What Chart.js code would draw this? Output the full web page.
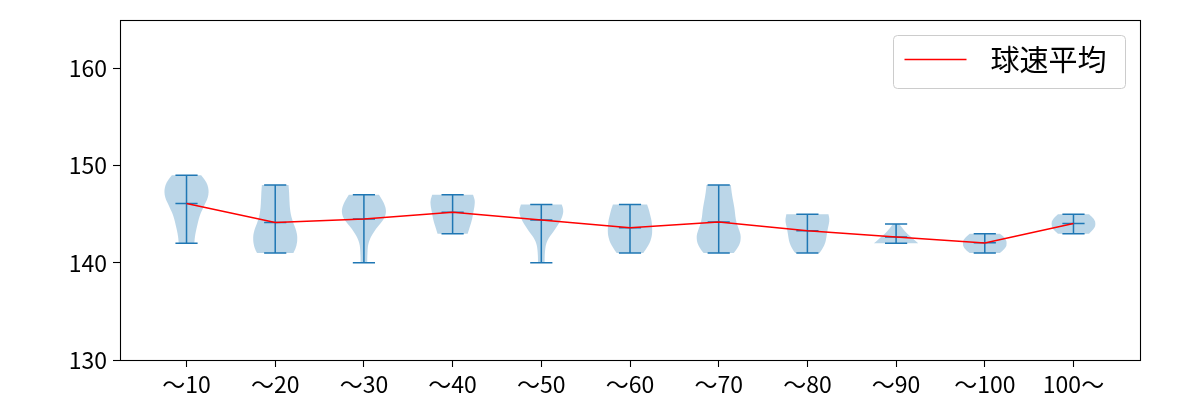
<!DOCTYPE html>
<html>
<head>
<meta charset="utf-8">
<script src="https://cdn.jsdelivr.net/npm/chart.js@4/dist/chart.umd.min.js"></script>
<style>
  html, body { margin: 0; padding: 0; background: #fff; }
  #wrap { width: 1200px; height: 400px; }
</style>
</head>
<body>
<div id="wrap"><canvas id="violinChart" width="1200" height="400"></canvas></div>
<script>
// categories (x tick labels) and their positions
const categories = ["〜10", "〜20", "〜30", "〜40", "〜50", "〜60", "〜70", "〜80", "〜90", "〜100", "100〜"];
const positions = [1, 2, 3, 4, 5, 6, 7, 8, 9, 10, 11];
const yTicks = [130, 140, 150, 160];

// per category: min, max, mean of pitch speed
const speedMin = [142, 141, 140, 143, 140, 141, 141, 141, 142, 141, 143];
const speedMax = [149, 148, 147, 147, 146, 146, 148, 145, 144, 143, 145];
const speedMean = [146.1, 144.15, 144.5, 145.2, 144.4, 143.6, 144.2, 143.3, 142.65, 142.05, 144.05];

// violin density (relative width), sampled every 0.5 from min to max
const densityStep = 0.5;
const density = [
  [0.35, 0.37, 0.40, 0.45, 0.50, 0.55, 0.62, 0.72, 0.82, 0.93, 0.99, 1.00, 0.95, 0.84, 0.66],
  [0.82, 0.93, 0.98, 1.00, 0.98, 0.92, 0.83, 0.76, 0.70, 0.67, 0.65, 0.64, 0.63, 0.62, 0.60],
  [0.15, 0.15, 0.16, 0.17, 0.20, 0.28, 0.40, 0.55, 0.73, 0.90, 0.99, 1.00, 0.93, 0.82, 0.68],
  [0.68, 0.75, 0.82, 0.88, 0.92, 0.96, 1.00, 1.00, 0.92],
  [0.15, 0.15, 0.16, 0.18, 0.22, 0.32, 0.48, 0.64, 0.78, 0.90, 0.98, 1.00, 0.92],
  [0.60, 0.75, 0.88, 0.96, 1.00, 1.00, 0.99, 0.96, 0.90, 0.85, 0.77],
  [0.68, 0.85, 0.96, 1.00, 0.98, 0.90, 0.82, 0.77, 0.74, 0.72, 0.68, 0.64, 0.60, 0.57, 0.55],
  [0.55, 0.70, 0.80, 0.85, 0.88, 0.92, 0.97, 1.00, 0.95],
  [1.00, 0.75, 0.50, 0.30, 0.14],
  [0.68, 0.95, 1.00, 0.95, 0.68],
  [0.70, 0.95, 1.00, 0.95, 0.70]
];

const violinWidth = 0.5;
const bodyColor = "rgba(31, 119, 180, 0.3)";
const lineColor = "#1f77b4";
const fontFamily = "'Noto Sans CJK JP', 'Noto Sans', sans-serif";

// draws violin bodies, stems and caps through the chart scales
const violinPlugin = {
  id: "violins",
  beforeDatasetsDraw(chart) {
    const ctx = chart.ctx;
    const xs = chart.scales.x;
    const ys = chart.scales.y;
    ctx.save();
    for (let i = 0; i < positions.length; i++) {
      const pos = positions[i];
      const d = density[i];
      const pts = d.map((w, k) => ({
        v: speedMin[i] + k * densityStep,
        hw: w * violinWidth / 2
      }));
      // right side bottom -> top, then left side top -> bottom
      const outline = [];
      pts.forEach(p => outline.push([xs.getPixelForValue(pos + p.hw), ys.getPixelForValue(p.v)]));
      for (let k = pts.length - 1; k >= 0; k--) {
        outline.push([xs.getPixelForValue(pos - pts[k].hw), ys.getPixelForValue(pts[k].v)]);
      }
      const n = pts.length;
      ctx.beginPath();
      ctx.moveTo(outline[0][0], outline[0][1]);
      // smooth each side with midpoint quadratic curves
      const drawSide = (start, end) => {
        for (let k = start + 1; k < end; k++) {
          const mx = (outline[k][0] + outline[k + 1][0]) / 2;
          const my = (outline[k][1] + outline[k + 1][1]) / 2;
          ctx.quadraticCurveTo(outline[k][0], outline[k][1], mx, my);
        }
        ctx.lineTo(outline[end][0], outline[end][1]);
      };
      drawSide(0, n - 1);
      ctx.lineTo(outline[n][0], outline[n][1]);
      drawSide(n, 2 * n - 1);
      ctx.closePath();
      ctx.fillStyle = bodyColor;
      ctx.fill();

      // stem and caps
      ctx.strokeStyle = lineColor;
      ctx.lineWidth = 1.5;
      const cx = xs.getPixelForValue(pos);
      ctx.beginPath();
      ctx.moveTo(cx, ys.getPixelForValue(speedMin[i]));
      ctx.lineTo(cx, ys.getPixelForValue(speedMax[i]));
      [speedMin[i], speedMax[i], speedMean[i]].forEach(v => {
        const py = ys.getPixelForValue(v);
        ctx.moveTo(xs.getPixelForValue(pos - violinWidth / 4), py);
        ctx.lineTo(xs.getPixelForValue(pos + violinWidth / 4), py);
      });
      ctx.stroke();
    }
    ctx.restore();
  },
  afterDraw(chart) {
    const ctx = chart.ctx;
    const a = chart.chartArea;
    ctx.save();
    // axes frame
    ctx.strokeStyle = "#000";
    ctx.lineWidth = 1.1;
    ctx.strokeRect(Math.round(a.left) + 0.5, Math.round(a.top) + 0.5,
      Math.round(a.right - a.left), Math.round(a.bottom - a.top));

    // legend box (upper right)
    const ds = chart.data.datasets[0];
    const bx = 893.5, by = 35.5, bw = 232, bh = 53, r = 4;
    ctx.beginPath();
    ctx.roundRect(bx, by, bw, bh, r);
    ctx.fillStyle = "rgba(255,255,255,0.8)";
    ctx.fill();
    ctx.strokeStyle = "#cccccc";
    ctx.lineWidth = 1;
    ctx.stroke();
    ctx.beginPath();
    ctx.moveTo(bx + 11, by + 24);
    ctx.lineTo(bx + 73, by + 24);
    ctx.strokeStyle = ds.borderColor;
    ctx.lineWidth = 1.5;
    ctx.stroke();
    ctx.fillStyle = "#000";
    ctx.font = "29px " + fontFamily;
    ctx.textBaseline = "middle";
    ctx.textAlign = "left";
    ctx.fillText(ds.label, bx + 97, by + 24);
    ctx.restore();
  }
};

const ctx = document.getElementById("violinChart").getContext("2d");
new Chart(ctx, {
  type: "line",
  data: {
    datasets: [
      {
        label: "球速平均",
        data: positions.map((p, i) => ({ x: p, y: speedMean[i] })),
        borderColor: "#ff0000",
        borderWidth: 1.5,
        pointRadius: 0,
        tension: 0,
        fill: false
      }
    ]
  },
  options: {
    responsive: false,
    animation: false,
    devicePixelRatio: 1,
    layout: { padding: { top: 19, right: 60, left: 0, bottom: 0 } },
    plugins: {
      legend: { display: false },
      tooltip: { enabled: false }
    },
    scales: {
      x: {
        type: "linear",
        min: 0.25,
        max: 11.75,
        afterBuildTicks: axis => { axis.ticks = positions.map(v => ({ value: v })); },
        afterFit: axis => { axis.height = 40; },
        border: { display: false },
        grid: { drawOnChartArea: false, drawTicks: true, tickLength: 7, color: "#000", tickWidth: 1.1 },
        ticks: {
          autoSkip: false,
          maxRotation: 0,
          padding: 3,
          color: "#000",
          font: { family: fontFamily, size: 23 },
          callback: v => categories[positions.indexOf(v)]
        }
      },
      y: {
        min: 130,
        max: 165,
        afterBuildTicks: axis => { axis.ticks = yTicks.map(v => ({ value: v })); },
        afterFit: axis => { axis.width = 120; },
        border: { display: false },
        grid: { drawOnChartArea: false, drawTicks: true, tickLength: 7, color: "#000", tickWidth: 1.1 },
        ticks: {
          padding: 6,
          color: "#000",
          font: { family: fontFamily, size: 23 }
        }
      }
    }
  },
  plugins: [violinPlugin]
});
</script>
</body>
</html>
